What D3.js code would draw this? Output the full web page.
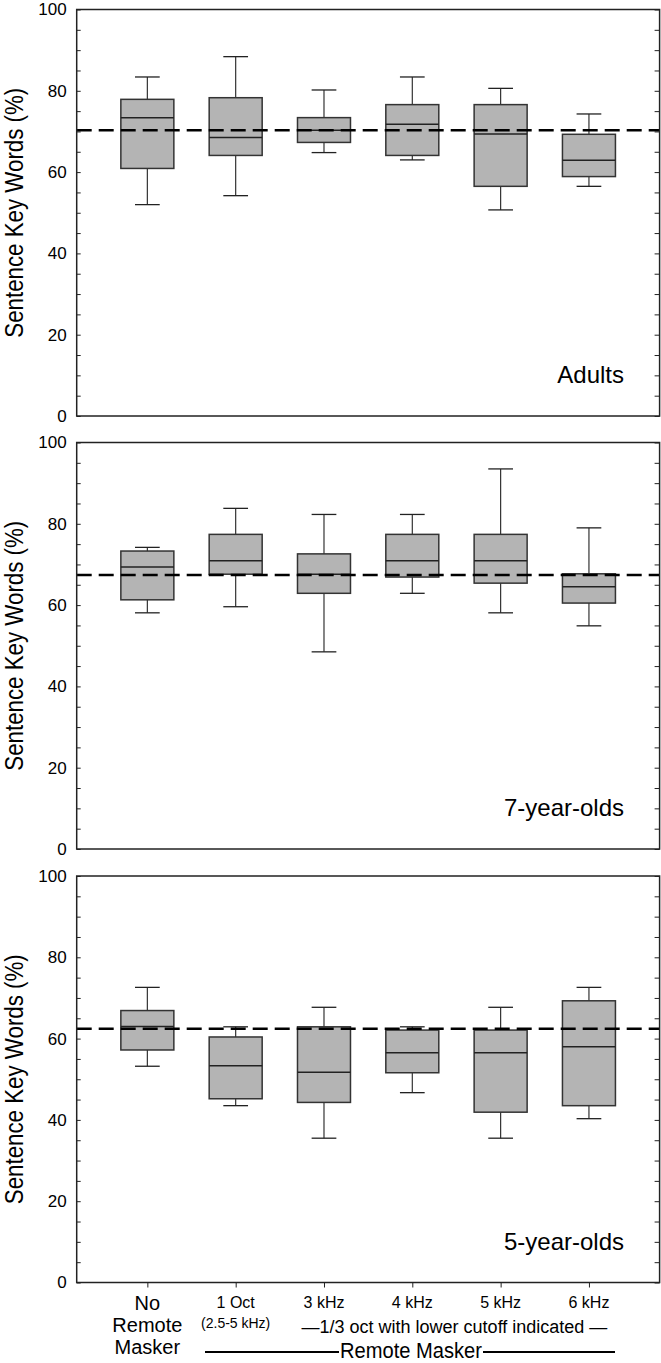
<!DOCTYPE html>
<html>
<head>
<meta charset="utf-8">
<script src="https://cdn.jsdelivr.net/npm/d3@7"></script>
<style>
	body { margin: 0; background: #fff; }
	svg { display: block; font-family: "Liberation Sans", Arial, sans-serif; }
</style>
</head>
<body>
<script>
// boxes are [lower whisker, q1, median, q3, upper whisker]
var categories = ['No Remote Masker', '1 Oct', '3 kHz', '4 kHz', '5 kHz', '6 kHz'];
var yTicks = [0, 20, 40, 60, 80, 100];

var adults = [
	[52.0, 60.9, 73.4, 77.9, 83.4],
	[54.2, 64.1, 68.5, 78.3, 88.4],
	[64.8, 67.3, 70.3, 73.4, 80.2],
	[63.0, 64.1, 71.8, 76.6, 83.4],
	[50.7, 56.5, 69.4, 76.6, 80.6],
	[56.5, 58.9, 62.9, 69.3, 74.3]
];
var sevenYearOlds = [
	[58.1, 61.3, 69.4, 73.3, 74.2],
	[59.6, 67.6, 70.9, 77.4, 83.8],
	[48.5, 62.9, 67.6, 72.6, 82.3],
	[62.9, 66.9, 70.9, 77.4, 82.3],
	[58.1, 65.4, 70.9, 77.4, 93.5],
	[54.9, 60.5, 64.5, 67.7, 79.0]
];
var fiveYearOlds = [
	[53.2, 57.2, 63.0, 66.9, 72.6],
	[43.5, 45.2, 53.3, 60.4, 62.9],
	[35.5, 44.3, 51.7, 62.9, 67.7],
	[46.7, 51.6, 56.5, 62.1, 62.9],
	[35.5, 41.9, 56.5, 62.1, 67.7],
	[40.3, 43.5, 58.0, 69.3, 72.6]
];
var panelNames = ['Adults', '7-year-olds', '5-year-olds'];
var baselines = [70.3, 67.4, 62.4]; // dashed line = no remote masker median

var panels = [adults, sevenYearOlds, fiveYearOlds];
var panelTops = [9.5, 442.5, 876];
var plotH = 406.5;
var left = 76.7, right = 659.6;

var svg = d3.select('body').append('svg')
	.attr('width', 661)
	.attr('height', 1363);

// categories sit at 1..6, frame runs from 0.2 to 6.8
var x = d3.scaleLinear().domain([0.2, 6.8]).range([left, right]);
var boxW = x(1.3) - x(1);
var capW = x(1.14) - x(1);

panels.forEach(function(data, p) {
	var top = panelTops[p];
	var y = d3.scaleLinear().domain([0, 100]).range([top + plotH, top]);
	var g = svg.append('g');

	// ticks every 5 on both sides, pointing inward
	g.append('g')
		.attr('transform', 'translate(' + left + ',0)')
		.call(d3.axisRight(y).tickValues(d3.range(0, 101, 5)).tickSize(4).tickFormat(''))
		.call(function(a) { a.select('.domain').remove(); a.selectAll('line').attr('stroke', '#222'); });

	g.append('g')
		.attr('transform', 'translate(' + right + ',0)')
		.call(d3.axisLeft(y).tickValues(d3.range(0, 101, 5)).tickSize(5).tickFormat(''))
		.call(function(a) { a.select('.domain').remove(); a.selectAll('line').attr('stroke', '#222'); });

	g.selectAll('.ylab')
		.data(yTicks)
		.enter().append('text')
		.attr('x', left - 10)
		.attr('y', function(d) { return y(d); })
		.attr('dy', '0.35em')
		.attr('text-anchor', 'end')
		.attr('font-size', 17)
		.text(function(d) { return d; });

	// y title, a bit taller and narrower than plain arial
	g.append('text')
		.attr('transform', 'translate(23,' + (top + plotH / 2) + ') rotate(-90)')
		.attr('text-anchor', 'middle')
		.attr('font-size', 25)
		.attr('textLength', 250)
		.attr('lengthAdjust', 'spacingAndGlyphs')
		.text('Sentence Key Words (%)');

	// boxes
	var box = g.selectAll('.box')
		.data(data)
		.enter().append('g')
		.attr('class', 'box');

	box.append('line')
		.attr('x1', function(d, i) { return x(i + 1); })
		.attr('x2', function(d, i) { return x(i + 1); })
		.attr('y1', function(d) { return y(d[0]); })
		.attr('y2', function(d) { return y(d[4]); })
		.attr('stroke', '#333').attr('stroke-width', 1.2);

	[0, 4].forEach(function(k) {
		box.append('line')
			.attr('x1', function(d, i) { return x(i + 1) - capW; })
			.attr('x2', function(d, i) { return x(i + 1) + capW; })
			.attr('y1', function(d) { return y(d[k]); })
			.attr('y2', function(d) { return y(d[k]); })
			.attr('stroke', '#222').attr('stroke-width', 1.3);
	});

	box.append('rect')
		.attr('x', function(d, i) { return x(i + 1) - boxW; })
		.attr('width', boxW * 2)
		.attr('y', function(d) { return y(d[3]); })
		.attr('height', function(d) { return y(d[1]) - y(d[3]); })
		.attr('fill', '#b4b4b4')
		.attr('stroke', '#333').attr('stroke-width', 1.5);

	box.append('line')
		.attr('x1', function(d, i) { return x(i + 1) - boxW; })
		.attr('x2', function(d, i) { return x(i + 1) + boxW; })
		.attr('y1', function(d) { return y(d[2]); })
		.attr('y2', function(d) { return y(d[2]); })
		.attr('stroke', '#222').attr('stroke-width', 1.5);

	// reference line goes over the boxes
	g.append('line')
		.attr('x1', left).attr('x2', right)
		.attr('y1', y(baselines[p])).attr('y2', y(baselines[p]))
		.attr('stroke', '#000').attr('stroke-width', 2.5)
		.attr('stroke-dasharray', '15,7');

	// frame
	g.append('rect')
		.attr('x', left).attr('y', top)
		.attr('width', right - left).attr('height', plotH)
		.attr('fill', 'none').attr('stroke', '#222').attr('stroke-width', 1.5);

	g.append('text')
		.attr('x', 624)
		.attr('y', y(8))
		.attr('text-anchor', 'end')
		.attr('font-size', 24)
		.text(panelNames[p]);

	// bottom panel gets the category axis
	if (p == panels.length - 1) {
		g.append('g')
			.attr('transform', 'translate(0,' + (top + plotH) + ')')
			.call(d3.axisBottom(x).tickValues(d3.range(1, 7)).tickSize(5).tickFormat(''))
			.call(function(a) { a.select('.domain').remove(); a.selectAll('line').attr('stroke', '#222'); });
	}
});

// category labels under the last panel
var lab = svg.append('g');
['No', 'Remote', 'Masker'].forEach(function(t, i) {
	lab.append('text')
		.attr('x', x(1)).attr('y', 1310 + i * 22)
		.attr('text-anchor', 'middle').attr('font-size', 20)
		.text(t);
});
lab.selectAll('.catlab')
	.data(categories.slice(1))
	.enter().append('text')
	.attr('x', function(d, i) { return x(i + 2); })
	.attr('y', 1308)
	.attr('text-anchor', 'middle')
	.attr('font-size', 16)
	.text(function(d) { return d; });
lab.append('text')
	.attr('x', x(2)).attr('y', 1328)
	.attr('text-anchor', 'middle').attr('font-size', 14)
	.text('(2.5-5 kHz)');
lab.append('text')
	.attr('x', (x(3) + x(6)) / 2 - 2).attr('y', 1333)
	.attr('text-anchor', 'middle').attr('font-size', 18)
	.text('\u20141/3 oct with lower cutoff indicated \u2014');

var rm = lab.append('text')
	.attr('x', 411).attr('y', 1358)
	.attr('text-anchor', 'middle').attr('font-size', 22)
	.attr('textLength', 142)
	.attr('lengthAdjust', 'spacingAndGlyphs')
	.text('Remote Masker');
var bb = rm.node().getBBox();
lab.append('line')
	.attr('x1', 205).attr('x2', bb.x - 1)
	.attr('y1', 1352).attr('y2', 1352)
	.attr('stroke', '#000').attr('stroke-width', 1.8);
lab.append('line')
	.attr('x1', bb.x + bb.width + 1).attr('x2', 615)
	.attr('y1', 1352).attr('y2', 1352)
	.attr('stroke', '#000').attr('stroke-width', 1.8);
</script>
</body>
</html>
